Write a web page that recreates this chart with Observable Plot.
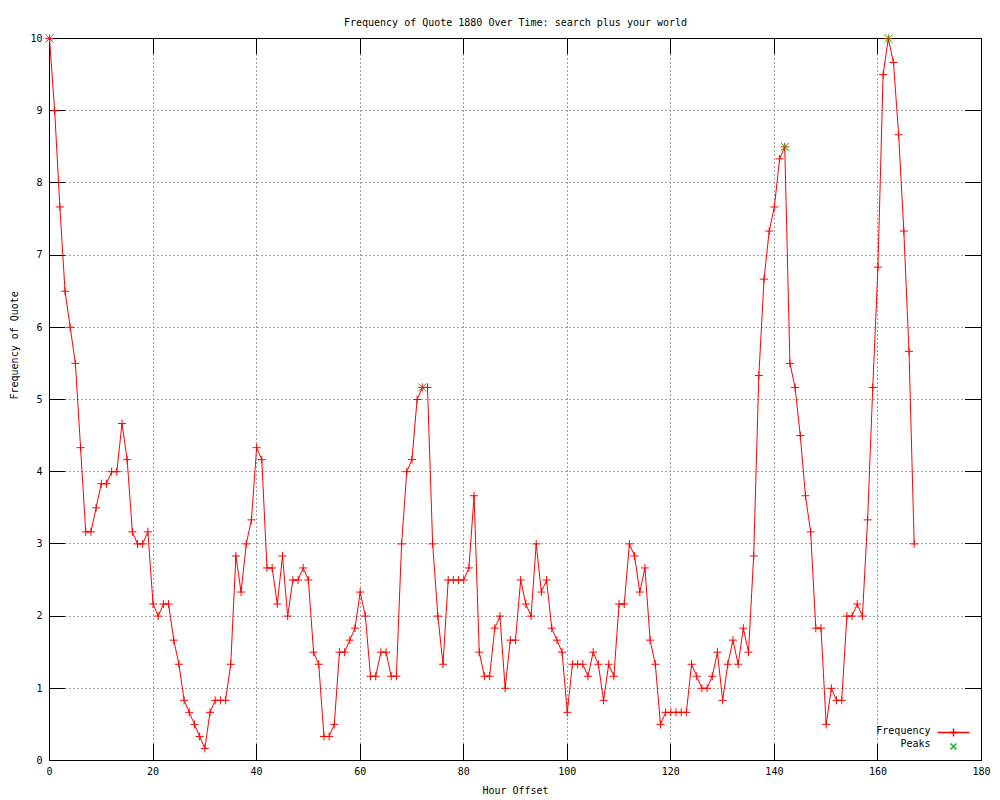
<!DOCTYPE html>
<html>
<head>
<meta charset="utf-8">
<script src="https://cdn.jsdelivr.net/npm/d3@7"></script>
<script src="https://cdn.jsdelivr.net/npm/@observablehq/plot@0.6"></script>
<style>
  html, body { margin: 0; padding: 0; background: #fff; }
  #chart svg { display: block; }
</style>
</head>
<body>
<div id="chart"></div>
<script>
const title = "Frequency of Quote 1880 Over Time: search plus your world";
const xLabel = "Hour Offset";
const yLabel = "Frequency of Quote";
const xTicks = [0, 20, 40, 60, 80, 100, 120, 140, 160, 180];
const yTicks = [0, 1, 2, 3, 4, 5, 6, 7, 8, 9, 10];
const legendLabels = ["Frequency", "Peaks"];

// Frequency per hour offset (hour = index, 0..167)
const frequency = [
  10, 9, 7.667, 6.5, 6, 5.5, 4.333, 3.167, 3.167, 3.5,
  3.833, 3.833, 4, 4, 4.667, 4.167, 3.167, 3, 3, 3.167,
  2.167, 2, 2.167, 2.167, 1.667, 1.333, 0.833, 0.667, 0.5, 0.333,
  0.167, 0.667, 0.833, 0.833, 0.833, 1.333, 2.833, 2.333, 3, 3.333,
  4.333, 4.167, 2.667, 2.667, 2.167, 2.833, 2, 2.5, 2.5, 2.667,
  2.5, 1.5, 1.333, 0.333, 0.333, 0.5, 1.5, 1.5, 1.667, 1.833,
  2.333, 2, 1.167, 1.167, 1.5, 1.5, 1.167, 1.167, 3, 4,
  4.167, 5, 5.167, 5.167, 3, 2, 1.333, 2.5, 2.5, 2.5,
  2.5, 2.667, 3.667, 1.5, 1.167, 1.167, 1.833, 2, 1, 1.667,
  1.667, 2.5, 2.167, 2, 3, 2.333, 2.5, 1.833, 1.667, 1.5,
  0.667, 1.333, 1.333, 1.333, 1.167, 1.5, 1.333, 0.833, 1.333, 1.167,
  2.167, 2.167, 3, 2.833, 2.333, 2.667, 1.667, 1.333, 0.5, 0.667,
  0.667, 0.667, 0.667, 0.667, 1.333, 1.167, 1, 1, 1.167, 1.5,
  0.833, 1.333, 1.667, 1.333, 1.833, 1.5, 2.833, 5.333, 6.667, 7.333,
  7.667, 8.333, 8.5, 5.5, 5.167, 4.5, 3.667, 3.167, 1.833, 1.833,
  0.5, 1, 0.833, 0.833, 2, 2, 2.167, 2, 3.333, 5.167,
  6.833, 9.5, 10, 9.667, 8.667, 7.333, 5.667, 3
];

const peakHours = [0, 72, 142, 162];
const peakValues = [10, 5.167, 8.5, 10];

const series = frequency.map((v, i) => ({hour: i, value: v}));
const peaks = peakHours.map((h, i) => ({hour: h, value: peakValues[i]}));

const plusSymbol = {
  draw(ctx, size) {
    const r = Math.sqrt(size / Math.PI);
    ctx.moveTo(-r, 0); ctx.lineTo(r, 0);
    ctx.moveTo(0, -r); ctx.lineTo(0, r);
  }
};
const timesSymbol = {
  draw(ctx, size) {
    const r = Math.sqrt(size / Math.PI);
    ctx.moveTo(-r, -r); ctx.lineTo(r, r);
    ctx.moveTo(-r, r); ctx.lineTo(r, -r);
  }
};
const legendLineSymbol = {
  draw(ctx) { ctx.moveTo(-16, 0); ctx.lineTo(16, 0); }
};

const W = 1000, H = 800, ML = 49, MR = 19, MT = 38, MB = 40;
const PW = W - ML - MR, PH = H - MT - MB;
const TICK = 16;
const red = "#ff0000", green = "#00c000";

const chart = Plot.plot({
  width: W, height: H,
  marginLeft: ML, marginRight: MR, marginTop: MT, marginBottom: MB,
  style: {fontFamily: "'DejaVu Sans Mono', monospace", fontSize: "10px", background: "#fff", color: "#000"},
  x: {domain: [0, 180], axis: null},
  y: {domain: [0, 10], axis: null},
  marks: [
    // grid
    Plot.ruleX(xTicks, {x: d => d, stroke: "#a0a0a0", strokeDasharray: "2,2", shapeRendering: "crispEdges"}),
    Plot.ruleY(yTicks, {y: d => d, stroke: "#a0a0a0", strokeDasharray: "2,2", shapeRendering: "crispEdges"}),
    // ticks (inward, mirrored)
    Plot.ruleX(xTicks, {x: d => d, insetTop: PH - TICK, stroke: "#000", shapeRendering: "crispEdges"}),
    Plot.ruleX(xTicks, {x: d => d, insetBottom: PH - TICK, stroke: "#000", shapeRendering: "crispEdges"}),
    Plot.ruleY(yTicks, {y: d => d, insetRight: PW - TICK, stroke: "#000", shapeRendering: "crispEdges"}),
    Plot.ruleY(yTicks, {y: d => d, insetLeft: PW - TICK, stroke: "#000", shapeRendering: "crispEdges"}),
    Plot.frame({stroke: "#000", shapeRendering: "crispEdges"}),
    // tick labels
    Plot.text(xTicks, {x: d => d, frameAnchor: "bottom", dy: 14, text: d => String(d), fill: "#000"}),
    Plot.text(yTicks, {y: d => d, frameAnchor: "left", dx: -7, textAnchor: "end", text: d => String(d), fill: "#000"}),
    // titles
    Plot.text([title], {frameAnchor: "top", dy: -20, text: d => d, fill: "#000"}),
    Plot.text([xLabel], {frameAnchor: "bottom", dy: 33, text: d => d, fill: "#000"}),
    Plot.text([yLabel], {frameAnchor: "left", dx: -35, rotate: -90, text: d => d, fill: "#000"}),
    // data
    Plot.line(series, {x: "hour", y: "value", stroke: red, strokeWidth: 1}),
    Plot.dot(series, {x: "hour", y: "value", symbol: plusSymbol, r: 4, stroke: red, fill: "none", strokeWidth: 1}),
    Plot.dot(peaks, {x: "hour", y: "value", symbol: timesSymbol, r: 4, stroke: green, fill: "none", strokeWidth: 1}),
    // legend
    Plot.text([legendLabels[0]], {frameAnchor: "bottom-right", dx: -51, dy: -27, textAnchor: "end", text: d => d, fill: "#000"}),
    Plot.text([legendLabels[1]], {frameAnchor: "bottom-right", dx: -51, dy: -14, textAnchor: "end", text: d => d, fill: "#000"}),
    Plot.dot([legendLabels[0]], {frameAnchor: "bottom-right", dx: -28, dy: -28, symbol: legendLineSymbol, r: 4, stroke: red, fill: "none"}),
    Plot.dot([legendLabels[0]], {frameAnchor: "bottom-right", dx: -28, dy: -28, symbol: plusSymbol, r: 4, stroke: red, fill: "none"}),
    Plot.dot([legendLabels[1]], {frameAnchor: "bottom-right", dx: -28, dy: -14, symbol: timesSymbol, r: 3, stroke: green, fill: "none"})
  ]
});
document.getElementById("chart").appendChild(chart);
</script>
</body>
</html>
